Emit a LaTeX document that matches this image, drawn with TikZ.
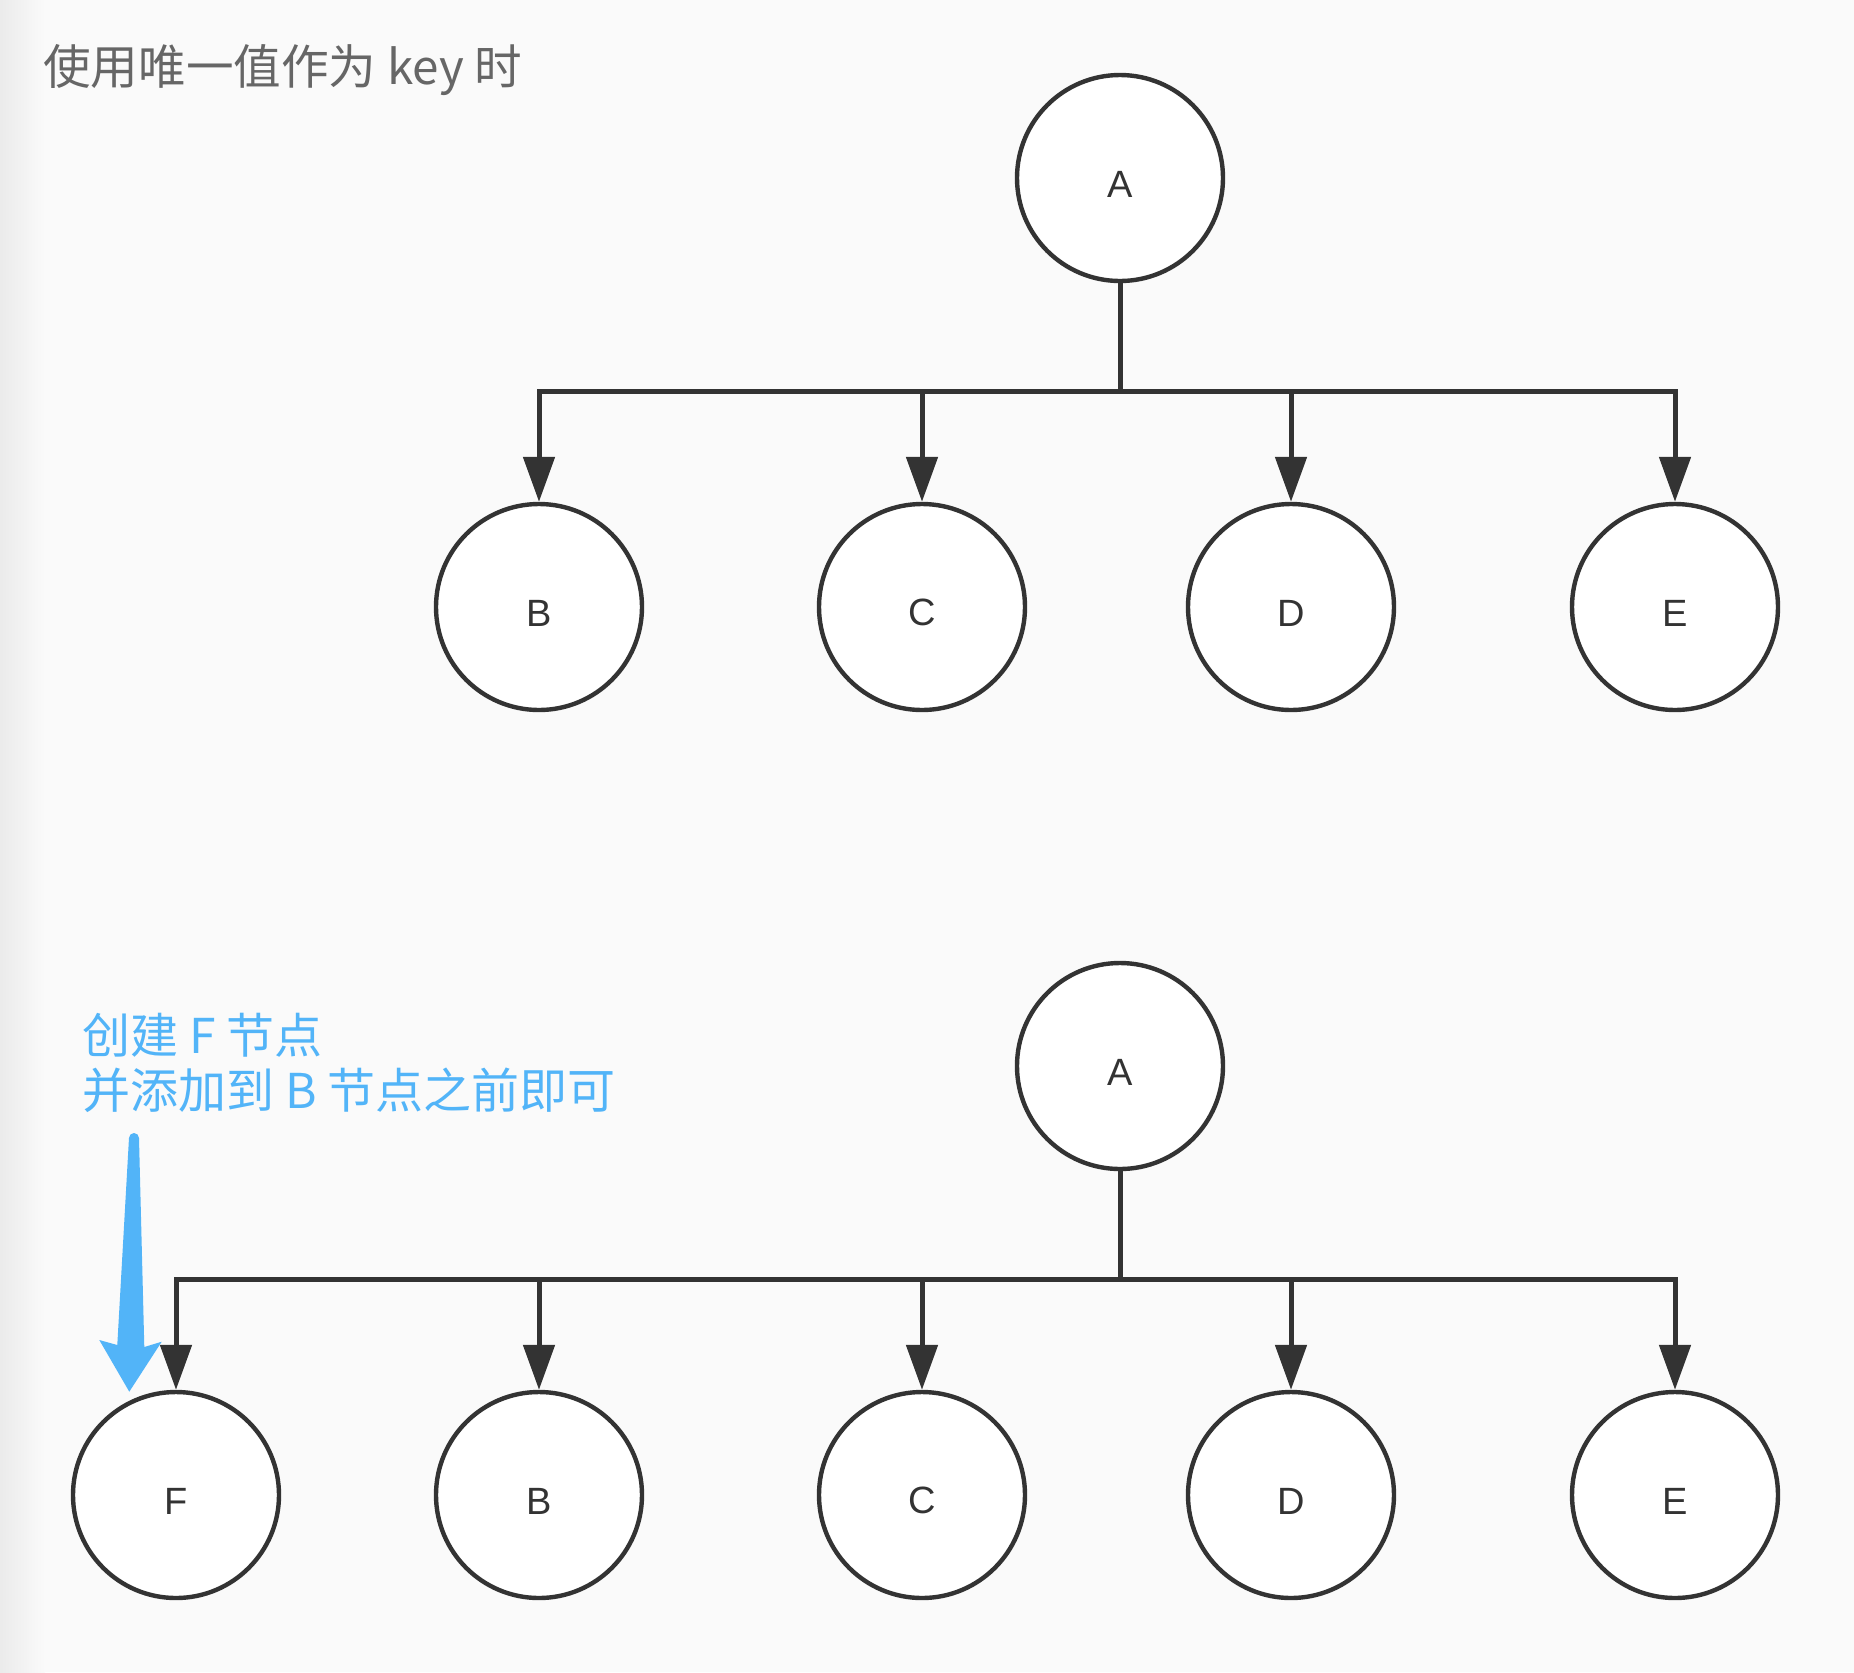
\documentclass[tikz,border=0pt]{standalone}
\usepackage{fontspec}
\setmainfont{Liberation Sans}
\newfontfamily\cjk{Noto Sans CJK SC}
\usetikzlibrary{arrows.meta,calc}
\definecolor{ink}{HTML}{333333}
\definecolor{hint}{HTML}{52B4F8}
\definecolor{paper}{HTML}{FAFAFA}
\definecolor{note}{HTML}{666666}

\begin{document}
\begin{tikzpicture}[x=0.5pt, y=-0.5pt,
  vnode/.style={circle, draw=ink, line width=2.2pt, fill=white, minimum size=103pt,
    inner sep=0pt, text=ink, font=\fontsize{19}{19}\selectfont, text height=19pt},
  trunk/.style={draw=ink, line width=2.5pt},
  link/.style={trunk, -{Triangle[length=22.5pt, width=15.5pt]}}]
  % page
  \fill[paper] (0,0) rectangle (1854,1672);
  \shade[left color=black!8, right color=paper] (0,0) rectangle (45,1672);
  \useasboundingbox (0,0) rectangle (1854,1672);

  \node[anchor=base west, inner sep=0pt, text=note, font=\cjk\fontsize{23.8}{23.8}\selectfont]
    (title) at (43,84.3) {使用唯一值作为 key 时};

  % old children
  \node[vnode] (A1) at (1120,178) {A};
  \node[vnode] (B1) at (539,607) {B};
  \node[vnode] (C1) at (922,607) {C};
  \node[vnode] (D1) at (1291,607) {D};
  \node[vnode] (E1) at (1675,607) {E};
  \coordinate (J1) at (1120,391);
  \draw[trunk] (A1.south) -- (J1);
  \draw[link] (J1) -| (B1);
  \draw[link] (J1) -| (C1);
  \draw[link] (J1) -| (D1);
  \draw[link] (J1) -| (E1);

  % new children
  \node[vnode] (A2) at (1120,1066) {A};
  \node[vnode] (F2) at (176,1495) {F};
  \node[vnode] (B2) at (539,1495) {B};
  \node[vnode] (C2) at (922,1495) {C};
  \node[vnode] (D2) at (1291,1495) {D};
  \node[vnode] (E2) at (1675,1495) {E};
  \coordinate (J2) at (1120,1279);
  \draw[trunk] (A2.south) -- (J2);
  \draw[link] (J2) -| (F2);
  \draw[link] (J2) -| (B2);
  \draw[link] (J2) -| (C2);
  \draw[link] (J2) -| (D2);
  \draw[link] (J2) -| (E2);

  \node[anchor=base west, align=left, inner sep=0pt, text=hint,
    font=\cjk\fontsize{24}{27.5}\selectfont]
    (note) at (82,1108.3) {创建 F 节点\\并添加到 B 节点之前即可};
  \coordinate (tail) at (134,1138);
  \coordinate (tip) at (129.3,1391.7);
  \fill[hint] ($(tail)+(-5,0)$) -- (117.3,1345) -- (99.3,1340) -- (tip) -- (161.7,1341.7)
    -- (144.3,1347) -- ($(tail)+(5,0)$) arc[start angle=0, end angle=-180, radius=5] -- cycle;
\end{tikzpicture}
\end{document}
